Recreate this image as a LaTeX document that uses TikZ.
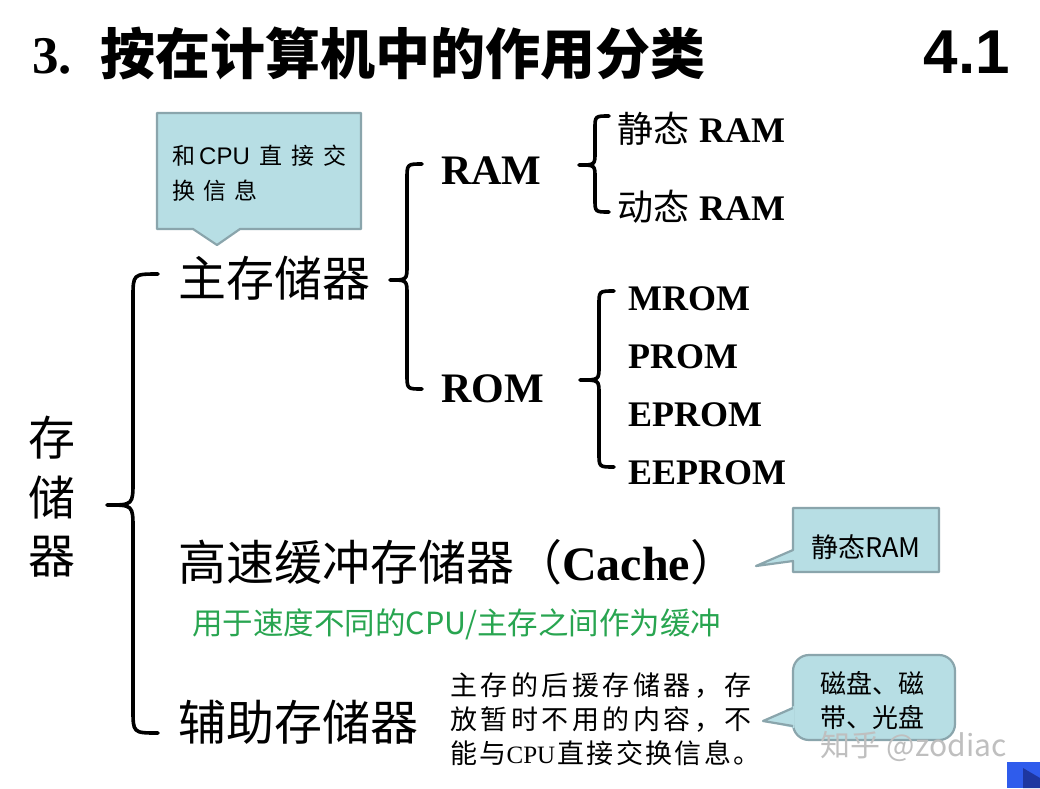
\documentclass[tikz,border=0pt]{standalone}
\usepackage{fontspec}
\setmainfont{Liberation Serif}
\newfontfamily\cjk{Noto Sans CJK SC}
\newfontfamily\arialf{Liberation Sans}
\definecolor{calfill}{RGB}{183,222,228}
\definecolor{calborder}{RGB}{138,165,172}
\definecolor{greentext}{RGB}{40,165,80}
\definecolor{btnblue}{RGB}{47,92,236}
\definecolor{btndark}{RGB}{30,55,160}
\tikzset{
  bracestyle/.style={line width=3.6pt, line cap=round, line join=round},
  callout/.style={fill=calfill, draw=calborder, line width=2.2pt, line join=round},
  lbl/.style={inner sep=0pt, anchor=base west},
}
% #1 xe, #2 ytop, #3 ybot, #4 xv, #5 xtip, #6 ymid, #7 radius
\newcommand{\mycurly}[7]{%
  \draw[bracestyle] (#1,#2) .. controls (#4,#2) .. (#4,{#2+#7}) -- (#4,{#6-#7})
    .. controls (#4,#6) .. (#5,#6) .. controls (#4,#6) .. (#4,{#6+#7})
    -- (#4,{#3-#7}) .. controls (#4,#3) .. (#1,#3);}
\begin{document}
\begin{tikzpicture}[x=1pt, y=-1pt]
\path[use as bounding box, fill=white] (0,0) rectangle (1040,788);

% title
\node[lbl] (t3) at (32,73) {\fontsize{53}{60}\selectfont\bfseries 3.};
\node[lbl] (title) at (100,74) {\fontsize{55}{60}\selectfont\cjk\bfseries 按在计算机中的作用分类};
\node[lbl, anchor=base east] (num) at (1010,73) {\arialf\bfseries\fontsize{62}{66}\selectfont 4.1};

% callout 1
\draw[callout] (157,113) -- (361,113) -- (361,229) -- (240,229) -- (217,245) -- (193,229) -- (157,229) -- cycle;
\node[lbl] (c1a) at (172,164) {\fontsize{23}{26}\selectfont{\cjk 和}\hspace{4pt}{\arialf\fontsize{24}{26}\selectfont CPU}\hspace{10pt}{\cjk 直\hspace{9pt}接\hspace{9pt}交}};
\node[lbl] (c1b) at (172,199) {\cjk\fontsize{23}{26}\selectfont 换\hspace{8pt}信\hspace{8pt}息};

% left column
\node[lbl] (cun) at (28,455) {\cjk\fontsize{47}{52}\selectfont 存};
\node[lbl] (chu) at (28,515) {\cjk\fontsize{47}{52}\selectfont 储};
\node[lbl] (qi) at (28,573) {\cjk\fontsize{47}{52}\selectfont 器};

% main storage
\node[lbl] (zhu) at (178,296) {\cjk\fontsize{48}{52}\selectfont 主存储器};
\node[lbl] (ram) at (441,184) {\bfseries\fontsize{42}{46}\selectfont RAM};
\node[lbl] (rom) at (441,402) {\bfseries\fontsize{42}{46}\selectfont ROM};
\node[lbl] (sram) at (617,142) {\fontsize{36}{40}\selectfont{\cjk 静态}\hspace{10pt}\bfseries RAM};
\node[lbl] (dram) at (617,220) {\fontsize{36}{40}\selectfont{\cjk 动态}\hspace{10pt}\bfseries RAM};
\node[lbl] (mrom) at (628,310) {\bfseries\fontsize{36}{40}\selectfont MROM};
\node[lbl] (prom) at (628,368) {\bfseries\fontsize{36}{40}\selectfont PROM};
\node[lbl] (eprom) at (628,426) {\bfseries\fontsize{36}{40}\selectfont EPROM};
\node[lbl] (eeprom) at (628,484) {\bfseries\fontsize{36}{40}\selectfont EEPROM};

% cache
\node[lbl] (cache) at (178,580) {\fontsize{48}{52}\selectfont{\cjk 高速缓冲存储器（}\textbf{Cache}{\cjk ）}};
\node[lbl, text=greentext] (green) at (192,634) {\cjk\fontsize{30.5}{34}\selectfont 用于速度不同的CPU/主存之间作为缓冲};

% callout 2
\draw[callout] (793,508) -- (939,508) -- (939,572) -- (793,572) -- (793,561) -- (756,566) -- (793,550) -- cycle;
\node[inner sep=0pt] (c2t) at (866,547) {\cjk\fontsize{27}{30}\selectfont 静态RAM};

% auxiliary
\node[lbl] (fu) at (178,740) {\cjk\fontsize{48}{52}\selectfont 辅助存储器};
\node[lbl] (d1) at (450,695) {\cjk\fontsize{27}{30}\selectfont\addfontfeature{LetterSpace=13}主存的后援存储器，存};
\node[lbl] (d2) at (450,729) {\cjk\fontsize{27}{30}\selectfont\addfontfeature{LetterSpace=13}放暂时不用的内容，不};
\node[lbl] (d3) at (450,763) {\fontsize{27}{30}\selectfont{\cjk\addfontfeature{LetterSpace=9}能与}{\fontsize{25}{28}\selectfont CPU}\hspace{2pt}{\cjk\addfontfeature{LetterSpace=9}直接交换信息。}};

% callout 3
\draw[callout, rounded corners=16pt] (793,655) rectangle (955,740);
\fill[calfill] (794.2,706) -- (763,721) -- (794.2,728) -- cycle;
\draw[calborder, line width=2.2pt, line join=round] (793,708) -- (763,721) -- (793,726);
\node[lbl] (c3a) at (820,693) {\cjk\fontsize{26}{30}\selectfont 磁盘、磁};
\node[lbl] (c3b) at (820,727) {\cjk\fontsize{26}{30}\selectfont 带、光盘};

% braces
\mycurly{158}{274}{733}{133}{107}{505}{24}
\mycurly{422}{164}{389}{407}{390}{280}{15}
\mycurly{609}{116}{212}{595}{579}{165}{13}
\mycurly{614}{291}{467}{599}{580}{380}{14}

% watermark
\node[lbl, text=black!25] (wm) at (820,756) {\cjk\fontsize{30}{34}\selectfont 知乎 @zodiac};

% nav button
\fill[btnblue] (1007,762) rectangle (1040,788);
\fill[btndark] (1023,768) -- (1040,778) -- (1040,788) -- (1023,788) -- cycle;
\end{tikzpicture}
\end{document}
